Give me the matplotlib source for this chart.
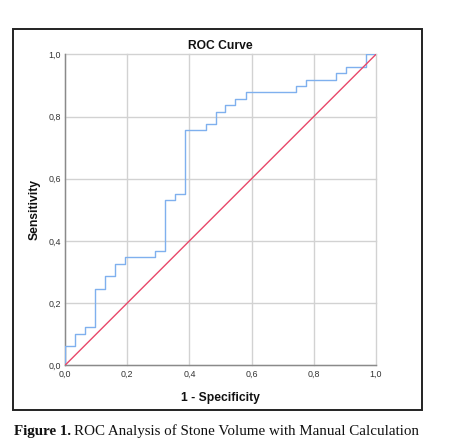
import matplotlib
matplotlib.use("Agg")
import matplotlib.pyplot as plt
from matplotlib.patches import Rectangle

# ROC step corners: level reached at each step, and where its horizontal run ends
tpr_levels = [0.0, 0.061, 0.102, 0.122, 0.245, 0.286, 0.327, 0.347, 0.367, 0.531, 0.551,
              0.755, 0.776, 0.816, 0.837, 0.857, 0.878, 0.898, 0.918, 0.939, 0.959, 1.0]
fpr_ends = [0.0, 0.032, 0.065, 0.097, 0.129, 0.161, 0.194, 0.290, 0.323, 0.355, 0.387,
            0.452, 0.484, 0.516, 0.548, 0.581, 0.742, 0.774, 0.871, 0.903, 0.968, 1.0]
ref_x = [0.0, 1.0]
ref_y = [0.0, 1.0]
ticks = [0.0, 0.2, 0.4, 0.6, 0.8, 1.0]
tick_labels = ["0,0", "0,2", "0,4", "0,6", "0,8", "1,0"]

W, H = 450, 445
fig = plt.figure(figsize=(W / 100, H / 100), dpi=100)
ax = fig.add_axes([65 / W, 1 - 365.3 / H, 311 / W, 311 / H])

ax.step(fpr_ends, tpr_levels, where="pre", color="#7fb0ee", lw=1.0, zorder=3)
ax.plot(ref_x, ref_y, color="#e8486a", lw=1.0, zorder=3)

ax.set_xlim(0, 1)
ax.set_ylim(0, 1)
ax.set_xticks(ticks)
ax.set_yticks(ticks)
ax.set_xticklabels(tick_labels)
ax.set_yticklabels(tick_labels)
ax.tick_params(length=0, pad=3, labelsize=6.4, labelcolor="#333333")
for lab in ax.get_xticklabels() + ax.get_yticklabels():
    lab.set_family("Liberation Sans")
ax.grid(True, color="#d2d2d2", lw=1.0, zorder=0)
for gl in ax.get_xgridlines() + ax.get_ygridlines():
    gl.set_clip_on(False)
ax.set_axisbelow(True)
for s in ["top", "right"]:
    ax.spines[s].set_visible(False)
for s in ["left", "bottom"]:
    ax.spines[s].set_color("#8a8a8a")
    ax.spines[s].set_linewidth(1.0)

font = dict(family="Liberation Sans", weight="bold", size=8.7, color="#111111")
ax.set_title("ROC Curve", pad=4, **font)
ax.set_xlabel("1 - Specificity", **font)
ax.set_ylabel("Sensitivity", **font)
ax.xaxis.set_label_coords(0.5, -0.085)
ax.yaxis.set_label_coords(-0.077, 0.5)

# outer frame
fig.patches.append(Rectangle((13 / W, 1 - 410 / H), 409 / W, 381 / H,
                             transform=fig.transFigure, fill=False,
                             edgecolor="#222222", lw=1.4))

# caption
t1 = fig.text(14 / W, 1 - 435 / H, "Figure 1.", family="Liberation Serif",
              weight="bold", size=10.8, va="baseline", color="#111111")
fig.canvas.draw()
bb = t1.get_window_extent(fig.canvas.get_renderer())
fig.text((bb.x1 + 3) / W, 1 - 435 / H, "ROC Analysis of Stone Volume with Manual Calculation",
         family="Liberation Serif", size=10.8, va="baseline", color="#111111")

fig.savefig("out.png", dpi=100)
